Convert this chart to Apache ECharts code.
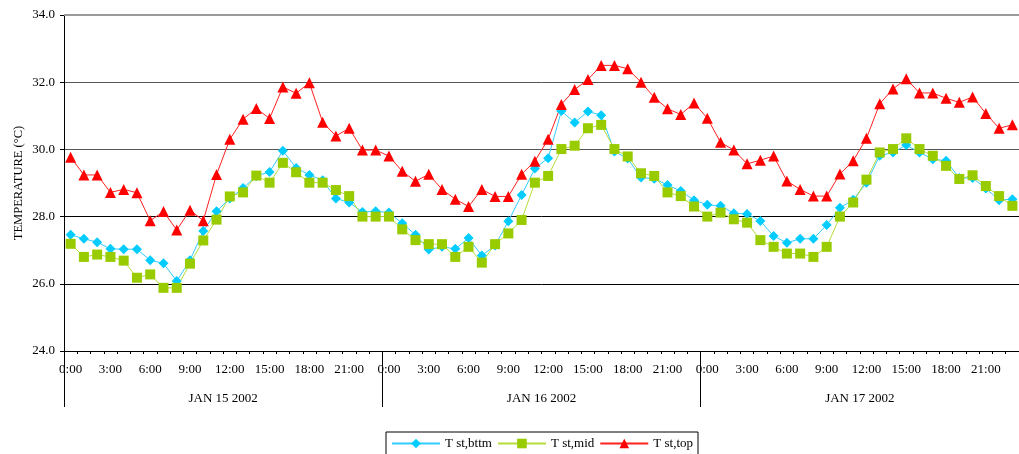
<!DOCTYPE html>
<html>
<head>
<meta charset="utf-8">
<script src="https://cdn.jsdelivr.net/npm/echarts@6/dist/echarts.min.js"></script>
<style>
  html, body { margin: 0; padding: 0; background: #fff; }
  #chart { width: 1019px; height: 454px; }
</style>
</head>
<body>
<div id="chart"></div>
<script>
// Hourly storage-tank temperatures over three days (°C)
const days = ['JAN 15 2002', 'JAN 16 2002', 'JAN 17 2002'];
const hourLabels = [];
for (let d = 0; d < days.length; d++) {
  for (let h = 0; h < 24; h++) hourLabels.push(h + ':00');
}

const tBottom = [
  27.46, 27.34, 27.24, 27.04, 27.03, 27.03, 26.70, 26.61, 26.08, 26.70, 27.57, 28.16,
  28.54, 28.85, 29.21, 29.33, 29.96, 29.45, 29.24, 29.08, 28.54, 28.42, 28.14, 28.16,
  28.12, 27.80, 27.46, 27.02, 27.10, 27.04, 27.36, 26.84, 27.14, 27.86, 28.64, 29.43,
  29.74, 31.14, 30.80, 31.13, 31.02, 29.94, 29.73, 29.16, 29.13, 28.94, 28.76, 28.49,
  28.35, 28.32, 28.10, 28.08, 27.87, 27.42, 27.22, 27.34, 27.34, 27.75, 28.26, 28.50,
  29.01, 29.81, 29.91, 30.13, 29.91, 29.71, 29.66, 29.15, 29.15, 28.84, 28.49, 28.52
];

const tMid = [
  27.19, 26.80, 26.87, 26.80, 26.69, 26.18, 26.28, 25.88, 25.88, 26.60, 27.29, 27.91,
  28.60, 28.72, 29.22, 29.01, 29.60, 29.32, 29.01, 29.01, 28.79, 28.61, 28.00, 28.00,
  28.00, 27.62, 27.30, 27.18, 27.18, 26.80, 27.10, 26.63, 27.18, 27.50, 27.90, 29.01,
  29.21, 30.01, 30.11, 30.63, 30.73, 30.01, 29.79, 29.29, 29.21, 28.72, 28.61, 28.30,
  28.00, 28.12, 27.92, 27.82, 27.30, 27.10, 26.90, 26.90, 26.80, 27.10, 28.00, 28.42,
  29.10, 29.91, 30.01, 30.33, 30.01, 29.81, 29.51, 29.12, 29.23, 28.91, 28.61, 28.32
];

const tTop = [
  29.77, 29.24, 29.24, 28.72, 28.81, 28.71, 27.88, 28.15, 27.60, 28.19, 27.88, 29.25,
  30.30, 30.90, 31.22, 30.92, 31.86, 31.67, 31.98, 30.81, 30.40, 30.63, 29.98, 29.98,
  29.80, 29.35, 29.05, 29.26, 28.81, 28.52, 28.30, 28.81, 28.60, 28.60, 29.26, 29.65,
  30.30, 31.34, 31.78, 32.08, 32.50, 32.50, 32.40, 32.00, 31.55, 31.21, 31.04, 31.38,
  30.93, 30.21, 29.98, 29.57, 29.68, 29.80, 29.06, 28.81, 28.61, 28.61, 29.27, 29.66,
  30.33, 31.36, 31.80, 32.10, 31.68, 31.68, 31.52, 31.40, 31.56, 31.07, 30.63, 30.73
];

const yTicks = { min: 24, max: 34, step: 2 };

const serif = 'Liberation Serif';
const chart = echarts.init(document.getElementById('chart'), null, { renderer: 'canvas' });

chart.setOption({
  animation: false,
  backgroundColor: '#fff',
  textStyle: { fontFamily: serif, color: '#000' },
  grid: { left: 64, right: -1, top: 15, bottom: 103, containLabel: false },
  legend: {
    left: 386,
    top: 432,
    padding: [5, 5, 8, 5],
    itemGap: 5,
    itemWidth: 48,
    itemHeight: 12,
    borderColor: '#000',
    borderWidth: 1,
    textStyle: { fontFamily: serif, fontSize: 13, color: '#000' },
    data: ['T st,bttm', 'T st,mid', 'T st,top']
  },
  xAxis: [
    {
      type: 'category',
      data: hourLabels,
      boundaryGap: true,
      position: 'bottom',
      axisLine: { lineStyle: { color: '#000', width: 1 } },
      axisTick: { show: true, interval: 0, length: 3, lineStyle: { color: '#000' } },
      axisLabel: {
        interval: 2,
        margin: 12,
        fontFamily: serif,
        fontSize: 13,
        color: '#000'
      },
      splitLine: { show: false }
    },
    {
      type: 'category',
      data: days,
      boundaryGap: true,
      position: 'bottom',
      axisLine: { show: false },
      axisTick: { show: true, interval: 0, length: 56, lineStyle: { color: '#000' } },
      axisLabel: {
        margin: 41,
        fontFamily: serif,
        fontSize: 13,
        color: '#000'
      },
      splitLine: { show: false }
    }
  ],
  yAxis: [
    {
      type: 'value',
      min: yTicks.min,
      max: yTicks.max,
      interval: yTicks.step,
      axisLine: { show: true, lineStyle: { color: '#000', width: 1 } },
      axisTick: { show: true, length: 4, lineStyle: { color: '#000' } },
      axisLabel: {
        margin: 9,
        fontFamily: serif,
        fontSize: 13,
        color: '#000',
        formatter: v => v.toFixed(1)
      },
      splitLine: {
        show: true,
        lineStyle: { color: ['#000', '#000', '#000', '#555', '#555', '#999'], width: 1 }
      }
    },
    {
      // carries only the axis title
      type: 'value',
      position: 'left',
      min: yTicks.min,
      max: yTicks.max,
      interval: yTicks.step,
      name: 'TEMPERATURE (°C)',
      nameLocation: 'middle',
      nameRotate: 90,
      nameGap: 39,
      nameTextStyle: { fontFamily: serif, fontSize: 12.5, color: '#000' },
      axisLine: { show: false },
      axisTick: { show: false },
      axisLabel: { show: false },
      splitLine: { show: false }
    }
  ],
  series: [
    {
      name: 'T st,bttm',
      type: 'line',
      data: tBottom,
      symbol: 'diamond',
      symbolSize: 10,
      showAllSymbol: true,
      lineStyle: { color: '#33CCFF', width: 1 },
      itemStyle: { color: '#00CCFF' },
      markLine: {
        silent: true,
        symbol: 'none',
        label: { show: false },
        lineStyle: { color: '#9a9a9a', width: 2, type: 'solid' },
        data: [{ yAxis: yTicks.max }]
      }
    },
    {
      name: 'T st,mid',
      type: 'line',
      data: tMid,
      symbol: 'rect',
      symbolSize: 10,
      showAllSymbol: true,
      lineStyle: { color: '#B5DD3A', width: 1 },
      itemStyle: { color: '#99CC00' }
    },
    {
      name: 'T st,top',
      type: 'line',
      data: tTop,
      symbol: 'triangle',
      symbolSize: 11,
      showAllSymbol: true,
      lineStyle: { color: '#FF2020', width: 1 },
      itemStyle: { color: '#FF0000' }
    }
  ]
});
</script>
</body>
</html>
